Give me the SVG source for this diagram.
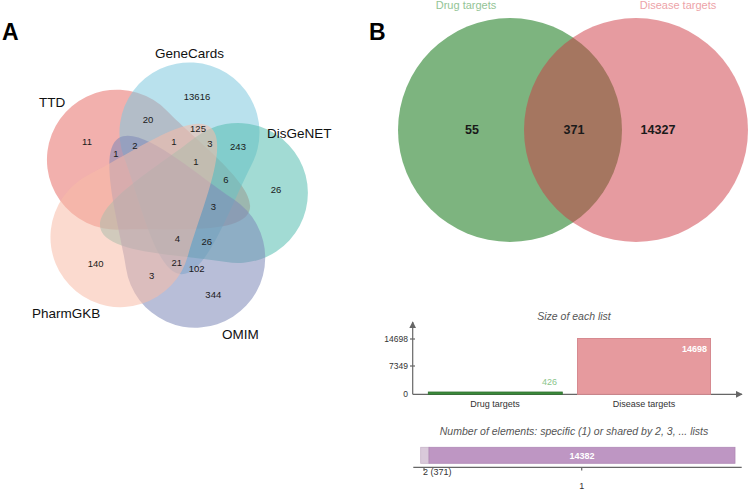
<svg xmlns="http://www.w3.org/2000/svg" width="749" height="491" viewBox="0 0 749 491">
<style>
text{font-family:"Liberation Sans",Arial,sans-serif}
.n{font-size:9.5px;fill:#1a1a1a;text-anchor:middle}
.set{font-size:13.5px;fill:#111}
.panel{font-size:23px;font-weight:bold;fill:#000}
.petal{fill-opacity:0.55;stroke:none}
.bn{font-size:12.5px;font-weight:bold;fill:#1a1a1a;text-anchor:middle}
.tick{font-size:8.5px;fill:#333;text-anchor:end}
.xl{font-size:9px;fill:#333;text-anchor:middle}
.ttl{font-size:10.5px;font-style:italic;fill:#555;text-anchor:middle}
.ax{stroke:#666;stroke-width:1.2;fill:none}
</style>
<defs>
<path id="petal" d="M -142,0 C -142,-26 -69.7,-45.6 -28.6,-63.9 A 70 70 0 1 1 -28.6,63.9 C -69.7,45.6 -142,26 -142,0 Z"/>
<marker id="arr" viewBox="0 0 10 10" refX="9" refY="5" markerWidth="7" markerHeight="7" orient="auto" markerUnits="userSpaceOnUse"><path d="M0,0 L10,5 L0,10 Z" fill="#666"/></marker>
</defs>
<rect width="749" height="491" fill="#fff"/>

<text class="panel" x="2" y="40">A</text>
<text class="panel" x="369" y="40">B</text>

<g id="venn5">
<g id="set-TTD"><use href="#petal" class="petal" fill="#E8706A" transform="rotate(216 172 196) translate(237.9 193) rotate(-14.6)"/></g>
<g id="set-GeneCards"><use href="#petal" class="petal" fill="#7FC9DF" transform="rotate(288 172 196) translate(237.9 193) rotate(-14.6)"/></g>
<g id="set-DisGeNET"><use href="#petal" class="petal" fill="#55BDB1" transform="translate(237.9 193) rotate(-14.6)"/></g>
<g id="set-OMIM"><use href="#petal" class="petal" fill="#7E89B8" transform="rotate(72 172 196) translate(237.9 193) rotate(-14.6)"/></g>
<g id="set-PharmGKB"><use href="#petal" class="petal" fill="#F7BCA8" transform="rotate(144 172 196) translate(237.9 193) rotate(-14.6)"/></g>
</g>

<g id="venn5-labels">
<text class="set" x="155" y="58">GeneCards</text>
<text class="set" x="39" y="107">TTD</text>
<text class="set" x="267" y="138">DisGeNET</text>
<text class="set" x="32" y="318">PharmGKB</text>
<text class="set" x="222" y="339">OMIM</text>
<text class="n" x="87" y="144.5">11</text>
<text class="n" x="148" y="122.5">20</text>
<text class="n" x="197" y="99.5">13616</text>
<text class="n" x="198" y="131.5">125</text>
<text class="n" x="116" y="157">1</text>
<text class="n" x="135" y="149">2</text>
<text class="n" x="174" y="145">1</text>
<text class="n" x="210" y="146.5">3</text>
<text class="n" x="238" y="150">243</text>
<text class="n" x="196" y="165">1</text>
<text class="n" x="226" y="182.7">6</text>
<text class="n" x="276" y="192.7">26</text>
<text class="n" x="213.3" y="210">3</text>
<text class="n" x="177.3" y="241.7">4</text>
<text class="n" x="206.7" y="245">26</text>
<text class="n" x="176.7" y="265.7">21</text>
<text class="n" x="196.7" y="271.7">102</text>
<text class="n" x="151.7" y="279.4">3</text>
<text class="n" x="95.7" y="267.4">140</text>
<text class="n" x="213.3" y="298.4">344</text>
</g>

<g id="venn2">
<g id="set-drug"><circle cx="510" cy="130" r="112" fill="#7DB47F"/>
<text x="466" y="9" style="font-size:11px;fill:#93C495;text-anchor:middle">Drug targets</text></g>
<g id="set-disease"><circle cx="636" cy="130" r="112" fill="#CD3741" fill-opacity="0.5"/>
<text x="678" y="9" style="font-size:11px;fill:#EDA3A8;text-anchor:middle">Disease targets</text></g>
<text class="bn" x="472" y="133.5">55</text>
<text class="bn" x="574" y="133.5">371</text>
<text class="bn" x="658" y="133.5">14327</text>
</g>

<g id="barchart">
<text class="ttl" x="574" y="320">Size of each list</text>
<line class="ax" x1="412.7" y1="394.3" x2="412.7" y2="322" marker-end="url(#arr)"/>
<line class="ax" x1="412.7" y1="394.3" x2="742" y2="394.3" marker-end="url(#arr)"/>
<line class="ax" x1="410" y1="339" x2="415" y2="339"/>
<line class="ax" x1="410" y1="366" x2="415" y2="366"/>
<text class="tick" x="408" y="342">14698</text>
<text class="tick" x="408" y="369">7349</text>
<text class="tick" x="408" y="396.5">0</text>
<g id="bar-drug"><rect x="428.3" y="392" width="134" height="2.3" fill="#3C8C3C" stroke="#2E6E2E" stroke-width="0.8"/>
<text x="557" y="385" style="font-size:9px;fill:#8CC68C;text-anchor:end">426</text></g>
<g id="bar-disease"><rect x="577.5" y="338.5" width="133" height="55.8" fill="#E69A9E" stroke="#D68A90" stroke-width="1"/>
<text x="707" y="351.5" style="font-size:9px;fill:#fff;text-anchor:end;font-weight:bold">14698</text></g>
<text class="xl" x="495" y="407">Drug targets</text>
<text class="xl" x="644" y="407">Disease targets</text>
</g>

<g id="sharedbar">
<text class="ttl" x="574" y="435">Number of elements: specific (1) or shared by 2, 3, ... lists</text>
<rect x="420.7" y="447.3" width="8.3" height="16" fill="#D9C9DA" stroke="#C7B3C8" stroke-width="0.8"/>
<rect x="429" y="447.3" width="306" height="16" fill="#BE96C3" stroke="#B088B5" stroke-width="0.8"/>
<text x="582" y="458.8" style="font-size:9px;fill:#fff;text-anchor:middle;font-weight:bold">14382</text>
<line class="ax" x1="413.3" y1="467.3" x2="741.7" y2="467.3"/>
<line class="ax" x1="424" y1="467.3" x2="424" y2="470.5"/>
<line class="ax" x1="581.7" y1="467.3" x2="581.7" y2="470.5"/>
<text x="423" y="475" style="font-size:9px;fill:#333">2 (371)</text>
<text x="581.7" y="489" style="font-size:9px;fill:#333;text-anchor:middle">1</text>
</g>
</svg>
